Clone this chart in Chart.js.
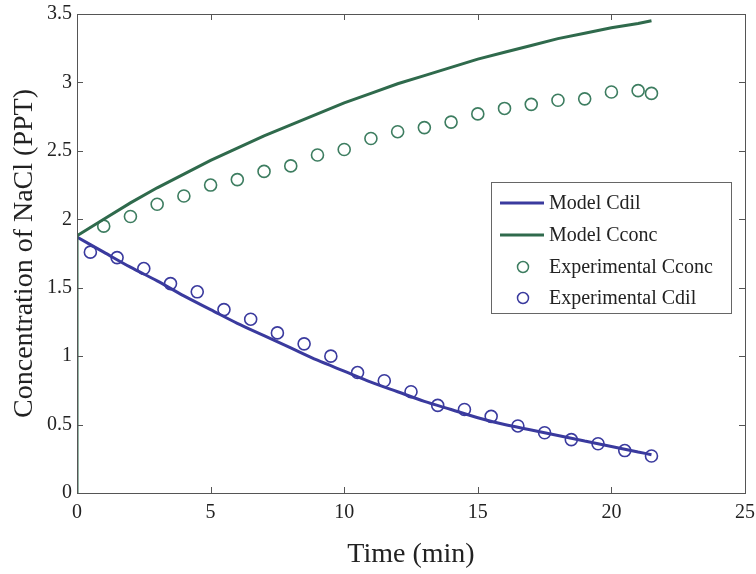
<!DOCTYPE html>
<html>
<head>
<meta charset="utf-8">
<script src="https://cdn.jsdelivr.net/npm/chart.js@4"></script>
<style>
  html, body { margin: 0; padding: 0; background: #fff; }
  #wrap { width: 756px; height: 574px; }
</style>
</head>
<body>
<div id="wrap"><canvas id="nacl"></canvas></div>
<script>
// model curves (min, PPT)
const modelTime = [0, 1, 2, 3, 4, 5, 6, 7, 8, 9, 10, 11, 12, 13, 14, 15, 16, 17, 18, 19, 20, 21, 21.5];
const modelCdil = [1.87, 1.76, 1.65, 1.55, 1.44, 1.34, 1.24, 1.15, 1.06, 0.97, 0.89, 0.81, 0.74, 0.67, 0.61, 0.55, 0.50, 0.46, 0.42, 0.38, 0.34, 0.30, 0.28];
const modelCconc = [1.88, 2.00, 2.12, 2.23, 2.33, 2.43, 2.52, 2.61, 2.69, 2.77, 2.85, 2.92, 2.99, 3.05, 3.11, 3.17, 3.22, 3.27, 3.32, 3.36, 3.40, 3.43, 3.45];

// experimental points
const expTimeConc = [1, 2, 3, 4, 5, 6, 7, 8, 9, 10, 11, 12, 13, 14, 15, 16, 17, 18, 19, 20, 21, 21.5];
const expCconc = [1.95, 2.02, 2.11, 2.17, 2.25, 2.29, 2.35, 2.39, 2.47, 2.51, 2.59, 2.64, 2.67, 2.71, 2.77, 2.81, 2.84, 2.87, 2.88, 2.93, 2.94, 2.92];
const expTimeDil = [0.5, 1.5, 2.5, 3.5, 4.5, 5.5, 6.5, 7.5, 8.5, 9.5, 10.5, 11.5, 12.5, 13.5, 14.5, 15.5, 16.5, 17.5, 18.5, 19.5, 20.5, 21.5];
const expCdil = [1.76, 1.72, 1.64, 1.53, 1.47, 1.34, 1.27, 1.17, 1.09, 1.00, 0.88, 0.82, 0.74, 0.64, 0.61, 0.56, 0.49, 0.44, 0.39, 0.36, 0.31, 0.27];

const xTicks = [0, 5, 10, 15, 20, 25];
const yTicks = [0, 0.5, 1, 1.5, 2, 2.5, 3, 3.5];

const blue = '#3a3a9e';
const green = '#2f6a4c';
const greenPt = '#3d7d60';
const serif = "'Liberation Serif', 'DejaVu Serif', serif";

function pairs(xs, ys) {
    return xs.map((x, i) => ({ x: x, y: ys[i] }));
}

// green model starts at zero then jumps up
const cconcLine = [{ x: 0, y: 0 }].concat(pairs(modelTime, modelCconc));

// box + inward ticks on all four sides, like the original plot
const boxPlugin = {
    id: 'boxTicks',
    afterDraw(chart) {
        const ctx = chart.ctx;
        const a = chart.chartArea;
        const xs = chart.scales.x, ys = chart.scales.y;
        ctx.save();
        ctx.strokeStyle = '#555';
        ctx.lineWidth = 1;
        ctx.strokeRect(a.left + 0.5, a.top + 0.5, a.right - a.left, a.bottom - a.top);
        ctx.beginPath();
        xTicks.forEach(v => {
            const px = Math.round(xs.getPixelForValue(v)) + 0.5;
            ctx.moveTo(px, a.bottom); ctx.lineTo(px, a.bottom - 6);
            ctx.moveTo(px, a.top); ctx.lineTo(px, a.top + 6);
        });
        yTicks.forEach(v => {
            const py = Math.round(ys.getPixelForValue(v)) + 0.5;
            ctx.moveTo(a.left, py); ctx.lineTo(a.left + 6, py);
            ctx.moveTo(a.right, py); ctx.lineTo(a.right - 6, py);
        });
        ctx.stroke();
        ctx.restore();
    }
};

// legend box inside the plot, upper right
const legendPlugin = {
    id: 'innerLegend',
    afterDraw(chart) {
        const ctx = chart.ctx;
        const a = chart.chartArea;
        const x0 = a.right - 254, y0 = 182, w = 240, h = 131;
        ctx.save();
        ctx.fillStyle = '#fff';
        ctx.fillRect(x0, y0, w, h);
        ctx.strokeStyle = '#666';
        ctx.lineWidth = 1;
        ctx.strokeRect(x0 + 0.5, y0 + 0.5, w, h);
        ctx.font = '20px ' + serif;
        ctx.textBaseline = 'middle';
        ctx.textAlign = 'left';
        const rows = [203, 235, 267, 298];
        chart.data.datasets.forEach((ds, i) => {
            const ry = rows[i];
            ctx.beginPath();
            ctx.strokeStyle = ds.borderColor;
            if (ds.showLine === false) {
                ctx.lineWidth = 1.5;
                ctx.arc(x0 + 32, ry, 5.5, 0, Math.PI * 2);
            } else {
                ctx.lineWidth = 3;
                ctx.moveTo(x0 + 9, ry); ctx.lineTo(x0 + 53, ry);
            }
            ctx.stroke();
            ctx.fillStyle = '#222';
            ctx.fillText(ds.label, x0 + 58, ry + 1);
        });
        ctx.restore();
    }
};

new Chart(document.getElementById('nacl'), {
    type: 'line',
    data: {
        datasets: [
            {
                label: 'Model Cdil',
                data: pairs(modelTime, modelCdil),
                borderColor: blue,
                borderWidth: 3,
                pointRadius: 0,
                cubicInterpolationMode: 'monotone',
                fill: false,
                order: 1
            },
            {
                label: 'Model Cconc',
                data: cconcLine,
                borderColor: green,
                borderWidth: 3,
                pointRadius: 0,
                fill: false,
                order: 0
            },
            {
                label: 'Experimental Cconc',
                data: pairs(expTimeConc, expCconc),
                showLine: false,
                borderColor: greenPt,
                backgroundColor: 'transparent',
                pointRadius: 6,
                pointBorderWidth: 1.6,
                order: 3
            },
            {
                label: 'Experimental Cdil',
                data: pairs(expTimeDil, expCdil),
                showLine: false,
                borderColor: blue,
                backgroundColor: 'transparent',
                pointRadius: 6,
                pointBorderWidth: 1.6,
                order: 2
            }
        ]
    },
    options: {
        responsive: true,
        maintainAspectRatio: false,
        animation: false,
        layout: { padding: { top: 14, right: 11, left: 0, bottom: 0 } },
        plugins: {
            legend: { display: false },
            tooltip: { enabled: false }
        },
        scales: {
            x: {
                type: 'linear',
                min: 0,
                max: 25,
                afterFit: s => { s.height = 81; s.paddingLeft = 0; s.paddingRight = 0; },
                afterBuildTicks: s => { s.ticks = xTicks.map(v => ({ value: v })); },
                grid: { display: false, drawTicks: false },
                border: { display: false },
                ticks: {
                    padding: 8,
                    color: '#222',
                    font: { family: serif, size: 20 },
                    callback: v => String(v)
                },
                title: {
                    display: true,
                    text: 'Time (min)',
                    color: '#222',
                    font: { family: serif, size: 28 },
                    padding: { bottom: 3 }
                }
            },
            y: {
                type: 'linear',
                min: 0,
                max: 3.5,
                afterFit: s => { s.width = 77; s.paddingTop = 0; s.paddingBottom = 0; },
                afterBuildTicks: s => { s.ticks = yTicks.map(v => ({ value: v })); },
                grid: { display: false, drawTicks: false },
                border: { display: false },
                ticks: {
                    padding: 5,
                    color: '#222',
                    font: { family: serif, size: 20 },
                    callback: v => String(v)
                },
                title: {
                    display: true,
                    text: 'Concentration of NaCl (PPT)',
                    color: '#222',
                    font: { family: serif, size: 28 },
                    padding: { top: 8 }
                }
            }
        }
    },
    plugins: [boxPlugin, legendPlugin]
});
</script>
</body>
</html>
